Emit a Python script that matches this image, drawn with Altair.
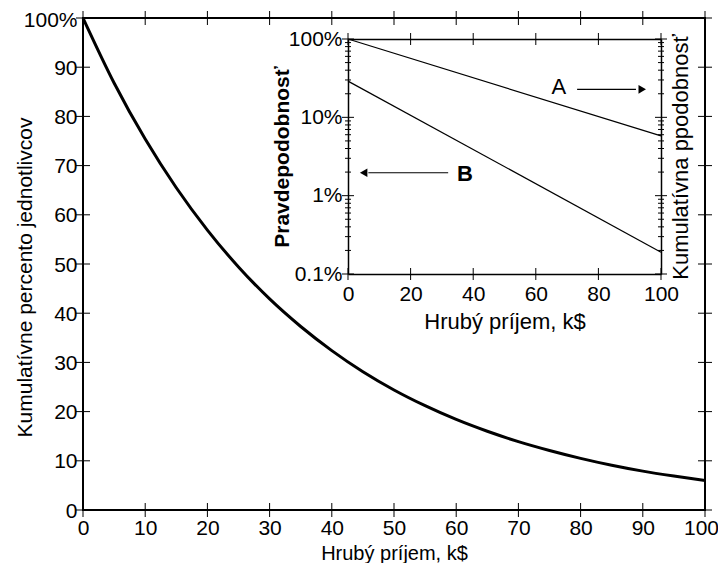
import altair as alt
import pandas as pd

# ---------------- data ----------------
income = [0, 5, 10, 15, 20, 25, 30, 35, 40, 45, 50, 55, 60, 65, 70, 75, 80, 85, 90, 95, 100]
cum_pct = [100, 86.8, 75.4, 65.5, 56.9, 49.4, 42.9, 37.3, 32.4, 28.1, 24.4,
           21.2, 18.4, 16.0, 13.9, 12.1, 10.5, 9.1, 7.9, 6.9, 6.0]

inset_income = [0, 100]
inset_A = [100, 5.8]
inset_B = [29, 0.19]

arrow_A_x = [73.2, 92.0]
arrow_A_y = [22.8, 22.8]
arrow_B_x = [32.0, 6.5]
arrow_B_y = [1.96, 1.96]
head_x = [94.0, 5.0]
head_y = [22.8, 1.96]
head_shape = ["triangle-right", "triangle-left"]
label_x = [67.4, 37.4]
label_y = [24.4, 1.9]
label_txt = ["A", "B"]

main_ticks_x = [0, 10, 20, 30, 40, 50, 60, 70, 80, 90, 100]
main_ticks_y = [0, 10, 20, 30, 40, 50, 60, 70, 80, 90, 100]
inset_ticks_x = [0, 20, 40, 60, 80, 100]
inset_major_y = [0.1, 1, 10, 100]
inset_minor_y = [0.2, 0.3, 0.4, 0.5, 0.6, 0.7, 0.8, 0.9,
                 2, 3, 4, 5, 6, 7, 8, 9,
                 20, 30, 40, 50, 60, 70, 80, 90]

# ---------------- layout ----------------
W, H = 622, 492
IX = [265, 578]
IY = [256, 21]
TK = 7
ITK = 6
ITM = 3
FONT = "Liberation Sans"

main_df = pd.DataFrame({"x": income, "y": cum_pct})
inset_df = pd.DataFrame({"x": inset_income * 2, "y": inset_A + inset_B,
                         "s": ["A"] * 2 + ["B"] * 2})
arrows_df = pd.DataFrame({"x": arrow_A_x + arrow_B_x, "y": arrow_A_y + arrow_B_y,
                          "g": ["A", "A", "B", "B"]})
heads_df = pd.DataFrame({"x": head_x, "y": head_y, "shape": head_shape})
text_df = pd.DataFrame({"x": label_x, "y": label_y, "t": label_txt})

mtx = pd.DataFrame({"tx": main_ticks_x})
mty = pd.DataFrame({"ty": main_ticks_y})
itx = pd.DataFrame({"tx": inset_ticks_x})
ity_major = pd.DataFrame({"ty": inset_major_y})
ity_minor = pd.DataFrame({"ty": inset_minor_y})

xs_main = alt.Scale(domain=[0, 100], nice=False, zero=False)
ys_main = alt.Scale(domain=[0, 100], nice=False, zero=False)
xs_in = alt.Scale(domain=[0, 100], range=IX, nice=False, zero=False)
ys_in = alt.Scale(type="log", domain=[0.1, 100], range=IY, nice=False)

last_shift = {"condition": {"test": "datum.value == 100", "value": -4}, "value": 0}
top_shift = {"condition": {"test": "datum.value == 100", "value": 2}, "value": 1}

xa_main = alt.Axis(
    orient="bottom", values=main_ticks_x, ticks=False, tickSize=0, domain=False,
    labelFontSize=21, labelPadding=24, labelBaseline="alphabetic", labelFlush=False,
    labelOffset=last_shift,
    title="Hrubý príjem, k$", titleFontSize=20, titleFontWeight="normal",
    titleY=49, titleBaseline="alphabetic")
ya_main = alt.Axis(
    orient="left", values=main_ticks_y, ticks=False, tickSize=0, domain=False,
    labelFontSize=21, labelPadding=6, labelFlush=False, labelOffset=top_shift,
    labelExpr="datum.value == 100 ? '100%' : datum.label",
    title="Kumulatívne percento jednotlivcov", titleFontSize=21, titleFontWeight="normal",
    titleX=-52, titleY=259, titleBaseline="alphabetic", titleAngle=270)
X_m = alt.X("x:Q", scale=xs_main, axis=xa_main)
Y_m = alt.Y("y:Q", scale=ys_main, axis=ya_main)

m_curve = alt.Chart(main_df).mark_line(color="black", strokeWidth=3, interpolate="monotone").encode(
    x=X_m, y=Y_m)

# tick marks on the main frame (shared main scales)
tick = dict(thickness=1, color="black", opacity=1)
m_tb = alt.Chart(mtx).mark_tick(orient="vertical", size=TK * 2, **tick).encode(
    x=alt.X("tx:Q", scale=xs_main, axis=xa_main), y=alt.value(H))
m_tt = alt.Chart(mtx).mark_tick(orient="vertical", size=TK * 2, **tick).encode(
    x=alt.X("tx:Q", scale=xs_main, axis=xa_main), y=alt.value(0))
m_tl = alt.Chart(mty).mark_tick(orient="horizontal", size=TK * 2, **tick).encode(
    y=alt.Y("ty:Q", scale=ys_main, axis=ya_main), x=alt.value(0))
m_tr = alt.Chart(mty).mark_tick(orient="horizontal", size=TK * 2, **tick).encode(
    y=alt.Y("ty:Q", scale=ys_main, axis=ya_main), x=alt.value(W))

main = alt.layer(m_curve, m_tb, m_tt, m_tl, m_tr)

# ---- inset ----
xa_in = alt.Axis(
    orient="bottom", offset=IY[0] - H, values=inset_ticks_x, ticks=False, tickSize=0,
    domain=True, domainWidth=1.5, labelFontSize=21, labelPadding=26,
    labelBaseline="alphabetic", labelFlush=False,
    title="Hrubý príjem, k$", titleFontSize=22, titleFontWeight="normal",
    titleY=54, titleBaseline="alphabetic")
ya_in = alt.Axis(
    orient="left", offset=-IX[0], values=inset_major_y, ticks=False, tickSize=0,
    domain=True, domainWidth=1.5, labelFontSize=21, labelPadding=6, labelFlush=False,
    format="~g", labelExpr="datum.label + '%'",
    title="Pravdepodobnosť", titleFontSize=21, titleFontWeight="bold",
    titleX=-60, titleY=138.5, titleBaseline="alphabetic", titleAngle=270)
X_in = alt.X("x:Q", scale=xs_in, axis=xa_in)
Y_in = alt.Y("y:Q", scale=ys_in, axis=ya_in)

i_lines = alt.Chart(inset_df).mark_line(color="black", strokeWidth=1.2).encode(
    x=X_in, y=Y_in, detail="s:N")
i_arrows = alt.Chart(arrows_df).mark_line(color="black", strokeWidth=1.2).encode(
    x=X_in, y=Y_in, detail="g:N")
i_heads = alt.Chart(heads_df).mark_point(filled=True, color="black", opacity=1, size=75).encode(
    x=X_in, y=Y_in, shape=alt.Shape("shape:N", scale=None))
i_textA = alt.Chart(text_df).transform_filter("datum.t == 'A'").mark_text(
    font=FONT, fontSize=22, color="black").encode(x=X_in, y=Y_in, text="t:N")
i_textB = alt.Chart(text_df).transform_filter("datum.t == 'B'").mark_text(
    font=FONT, fontSize=22, fontWeight="bold", color="black").encode(x=X_in, y=Y_in, text="t:N")

i_tb = alt.Chart(itx).mark_tick(orient="vertical", size=ITK * 2, **tick).encode(
    x=alt.X("tx:Q", scale=xs_in, axis=xa_in), y=alt.value(IY[0]))
i_tt = alt.Chart(itx).mark_tick(orient="vertical", size=ITK * 2, **tick).encode(
    x=alt.X("tx:Q", scale=xs_in, axis=xa_in), y=alt.value(IY[1]))
i_tl = alt.Chart(ity_major).mark_tick(orient="horizontal", size=ITK * 2, **tick).encode(
    y=alt.Y("ty:Q", scale=ys_in, axis=ya_in), x=alt.value(IX[0]))
i_tlm = alt.Chart(ity_minor).mark_tick(orient="horizontal", size=ITM * 2, **tick).encode(
    y=alt.Y("ty:Q", scale=ys_in, axis=ya_in), x=alt.value(IX[0]))
i_tr = alt.Chart(ity_major).mark_tick(orient="horizontal", size=ITK * 2, **tick).encode(
    y=alt.Y("ty:Q", scale=ys_in, axis=ya_in), x=alt.value(IX[1]))
i_trm = alt.Chart(ity_minor).mark_tick(orient="horizontal", size=ITM * 2, **tick).encode(
    y=alt.Y("ty:Q", scale=ys_in, axis=ya_in), x=alt.value(IX[1]))

inset = alt.layer(i_lines, i_arrows, i_heads, i_textA, i_textB,
                  i_tb, i_tt, i_tl, i_tlm, i_tr, i_trm)

# ---- inset frame (top / right) + right title ----
i_frame = alt.Chart(inset_df).mark_point(opacity=0).encode(
    x=alt.X("x:Q", scale=xs_in, axis=alt.Axis(
        orient="bottom", offset=IY[1] - H, values=inset_ticks_x, labels=False, ticks=False,
        domain=True, domainWidth=1.5, title=None)),
    y=alt.Y("y:Q", scale=ys_in, axis=alt.Axis(
        orient="left", offset=-IX[1], values=inset_major_y, labels=False, ticks=False,
        domain=True, domainWidth=1.5,
        title="Kumulatívna ppodobnosť", titleFontSize=22, titleFontWeight="normal",
        titleX=26, titleY=138.5, titleBaseline="alphabetic", titleAngle=270)),
)

chart = alt.layer(main, inset, i_frame).resolve_scale(
    x="independent", y="independent"
).properties(
    width=W, height=H,
    autosize=alt.AutoSizeParams(type="none"),
    padding={"left": 75, "top": 10, "right": 13, "bottom": 53},
).configure_view(
    stroke="black", strokeWidth=2
).configure_axis(
    grid=False, domainColor="black", tickColor="black", labelColor="black",
    titleColor="black", labelFont=FONT, titleFont=FONT
)

chart.save("out.html", embed_options={"renderer": "svg", "actions": False})
